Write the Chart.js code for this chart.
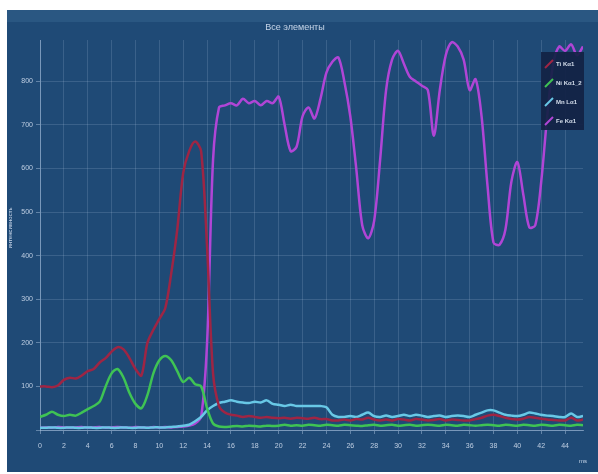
<!DOCTYPE html>
<html>
<head>
<meta charset="utf-8">
<script src="https://cdn.jsdelivr.net/npm/chart.js@4.4.0/dist/chart.umd.min.js"></script>
<style>
  html, body { margin: 0; padding: 0; background: #ffffff; }
  canvas { display: block; }
</style>
</head>
<body>
<canvas id="grafico" width="598" height="474"></canvas>
<script>
// --- Dados ---
const xs = [0, 0.5, 1, 1.5, 2, 2.5, 3, 3.5, 4, 4.5, 5, 5.5, 6, 6.5, 7, 7.5, 8, 8.5, 9, 9.5,
    10, 10.5, 11, 11.5, 12, 12.5, 13, 13.5, 14, 14.5, 15, 15.5, 16, 16.5, 17, 17.5, 18, 18.5, 19, 19.5,
    20, 20.5, 21, 21.5, 22, 22.5, 23, 23.5, 24, 24.5, 25, 25.5, 26, 26.5, 27, 27.5, 28, 28.5, 29, 29.5,
    30, 30.5, 31, 31.5, 32, 32.5, 33, 33.5, 34, 34.5, 35, 35.5, 36, 36.5, 37, 37.5, 38, 38.5, 39, 39.5,
    40, 40.5, 41, 41.5, 42, 42.5, 43, 43.5, 44, 44.5, 45, 45.5];

const xTicks = [0, 2, 4, 6, 8, 10, 12, 14, 16, 18, 20, 22, 24, 26, 28, 30, 32, 34, 36, 38, 40, 42, 44];
const yTicks = [0, 100, 200, 300, 400, 500, 600, 700, 800];

const tiKa1 = [100, 100, 98, 102, 115, 120, 118, 125, 135, 140, 155, 165, 180, 190, 185, 165, 140, 125, 200, 230,
    255, 280, 360, 460, 590, 640, 662, 640, 420, 130, 55, 40, 35, 33, 30, 32, 30, 28, 30, 28,
    27, 28, 26, 28, 27, 26, 28, 25, 25, 22, 22, 24, 22, 25, 24, 28, 24, 22, 24, 22,
    25, 24, 22, 25, 24, 22, 23, 25, 22, 24, 23, 22, 22, 25, 28, 33, 35, 32, 28, 25,
    24, 26, 30, 28, 26, 24, 23, 22, 22, 28, 22, 24];

const niKa12 = [30, 35, 42, 35, 32, 35, 33, 40, 48, 55, 65, 100, 130, 140, 120, 85, 60, 50, 80, 130,
    160, 170, 160, 135, 110, 120, 105, 100, 50, 15, 8, 7, 8, 9, 8, 10, 9, 8, 10, 9,
    10, 12, 10, 11, 10, 12, 11, 10, 12, 11, 10, 12, 11, 10, 9, 11, 12, 10, 11, 12,
    10, 11, 12, 10, 11, 12, 11, 10, 12, 11, 10, 12, 11, 10, 11, 12, 11, 10, 12, 11,
    10, 12, 11, 10, 12, 11, 10, 12, 11, 10, 12, 11];

const mnLa1 = [5, 5, 6, 5, 5, 6, 5, 5, 6, 5, 5, 6, 5, 5, 6, 5, 5, 6, 5, 6,
    6, 6, 7, 8, 10, 12, 20, 30, 45, 55, 62, 65, 68, 65, 63, 62, 65, 63, 68, 60,
    58, 55, 58, 55, 55, 55, 55, 55, 52, 35, 30, 30, 32, 30, 35, 40, 32, 30, 33, 30,
    32, 35, 32, 35, 33, 30, 32, 33, 30, 32, 33, 32, 30, 35, 40, 45, 45, 40, 35, 33,
    32, 35, 40, 38, 35, 33, 32, 30, 30, 38, 30, 32];

const feKa1 = [5, 6, 5, 7, 6, 5, 6, 7, 5, 6, 7, 5, 6, 7, 6, 5, 7, 6, 5, 7,
    6, 7, 6, 7, 8, 10, 15, 30, 200, 620, 740, 745, 750, 745, 760, 750, 755, 745, 755, 750,
    765, 700, 640, 650, 720, 740, 715, 760, 820, 845, 855, 800, 720, 600, 470, 440, 480, 620, 780, 850,
    870, 840, 810, 800, 790, 780, 675, 780, 860, 890, 880, 850, 780, 805, 720, 560, 430, 425, 460, 570,
    615, 540, 465, 470, 570, 720, 840, 880, 870, 885, 860, 880];

const seriesNames = ['Ti Kα1', 'Ni Kα1_2', 'Mn Lα1', 'Fe Kα1'];
const seriesColors = ['#9e2544', '#3fc354', '#68c8e6', '#b045d6'];
const seriesValues = [tiKa1, niKa12, mnLa1, feKa1];

const fundoPainel = {
    id: 'fundoPainel',
    beforeDraw(chart) {
        const ctx = chart.ctx;
        ctx.save();
        ctx.fillStyle = '#ffffff';
        ctx.fillRect(0, 0, chart.width, chart.height);
        ctx.fillStyle = '#1f4a76';
        ctx.fillRect(7, 10, 591, 462);
        ctx.fillStyle = '#2a5782';
        ctx.fillRect(7, 10, 591, 12);
        ctx.restore();
    },
    afterDraw(chart) {
        const ctx = chart.ctx;
        ctx.save();
        // titulo
        ctx.fillStyle = 'rgba(225,235,250,0.85)';
        ctx.font = '9px "Liberation Sans Narrow", "Liberation Sans", sans-serif';
        ctx.textAlign = 'center';
        ctx.textBaseline = 'middle';
        ctx.fillText('Все элементы', 295, 28);
        // titulo eixo x
        ctx.font = '6px "Liberation Sans Narrow", sans-serif';
        ctx.fillText('ms', 583, 461);
        // titulo eixo y
        ctx.translate(10, 228);
        ctx.rotate(-Math.PI / 2);
        ctx.fillText('интенсивность', 0, 0);
        ctx.restore();

        // legenda
        ctx.save();
        ctx.fillStyle = 'rgba(18,34,68,0.92)';
        ctx.fillRect(541, 52, 43, 78);
        ctx.font = 'bold 6px "Liberation Sans Narrow", sans-serif';
        ctx.textAlign = 'left';
        ctx.textBaseline = 'middle';
        seriesNames.forEach((nome, i) => {
            const y = 64 + i * 19;
            ctx.strokeStyle = seriesColors[i];
            ctx.lineWidth = 2;
            ctx.beginPath();
            ctx.moveTo(545, y + 4);
            ctx.lineTo(553, y - 4);
            ctx.stroke();
            ctx.fillStyle = 'rgba(230,238,250,0.9)';
            ctx.fillText(nome, 556, y);
        });
        ctx.restore();
    }
};

new Chart(document.getElementById('grafico'), {
    type: 'line',
    data: {
        datasets: seriesNames.map((nome, i) => ({
            label: nome,
            data: xs.map((x, j) => ({ x: x, y: seriesValues[i][j] })),
            borderColor: seriesColors[i],
            borderWidth: 2.5,
            pointRadius: 0,
            tension: 0.3,
            fill: false
        }))
    },
    options: {
        responsive: false,
        animation: false,
        layout: { padding: { left: 7, right: 15, top: 40, bottom: 14 } },
        plugins: {
            legend: { display: false },
            title: { display: false },
            tooltip: { enabled: false }
        },
        scales: {
            x: {
                type: 'linear',
                min: 0,
                max: 45.5,
                afterFit: s => { s.height = 30; },
                afterBuildTicks: s => { s.ticks = xTicks.map(v => ({ value: v })); },
                grid: { color: 'rgba(200,220,245,0.16)', tickColor: 'rgba(200,220,245,0.4)', tickLength: 4 },
                border: { color: 'rgba(200,220,245,0.45)' },
                ticks: {
                    padding: 8,
                    maxRotation: 0,
                    autoSkip: false,
                    color: 'rgba(225,235,250,0.8)',
                    font: { size: 7, family: '"Liberation Sans Narrow", sans-serif' }
                }
            },
            y: {
                min: 0,
                max: 895,
                afterFit: s => { s.width = 33; },
                afterBuildTicks: s => { s.ticks = yTicks.map(v => ({ value: v })); },
                grid: { color: 'rgba(200,220,245,0.16)', tickColor: 'rgba(200,220,245,0.4)', tickLength: 4 },
                border: { color: 'rgba(200,220,245,0.45)' },
                ticks: {
                    color: 'rgba(225,235,250,0.8)',
                    font: { size: 7, family: '"Liberation Sans Narrow", sans-serif' },
                    callback: v => (v === 0 ? '' : v)
                }
            }
        }
    },
    plugins: [fundoPainel]
});
</script>
</body>
</html>
